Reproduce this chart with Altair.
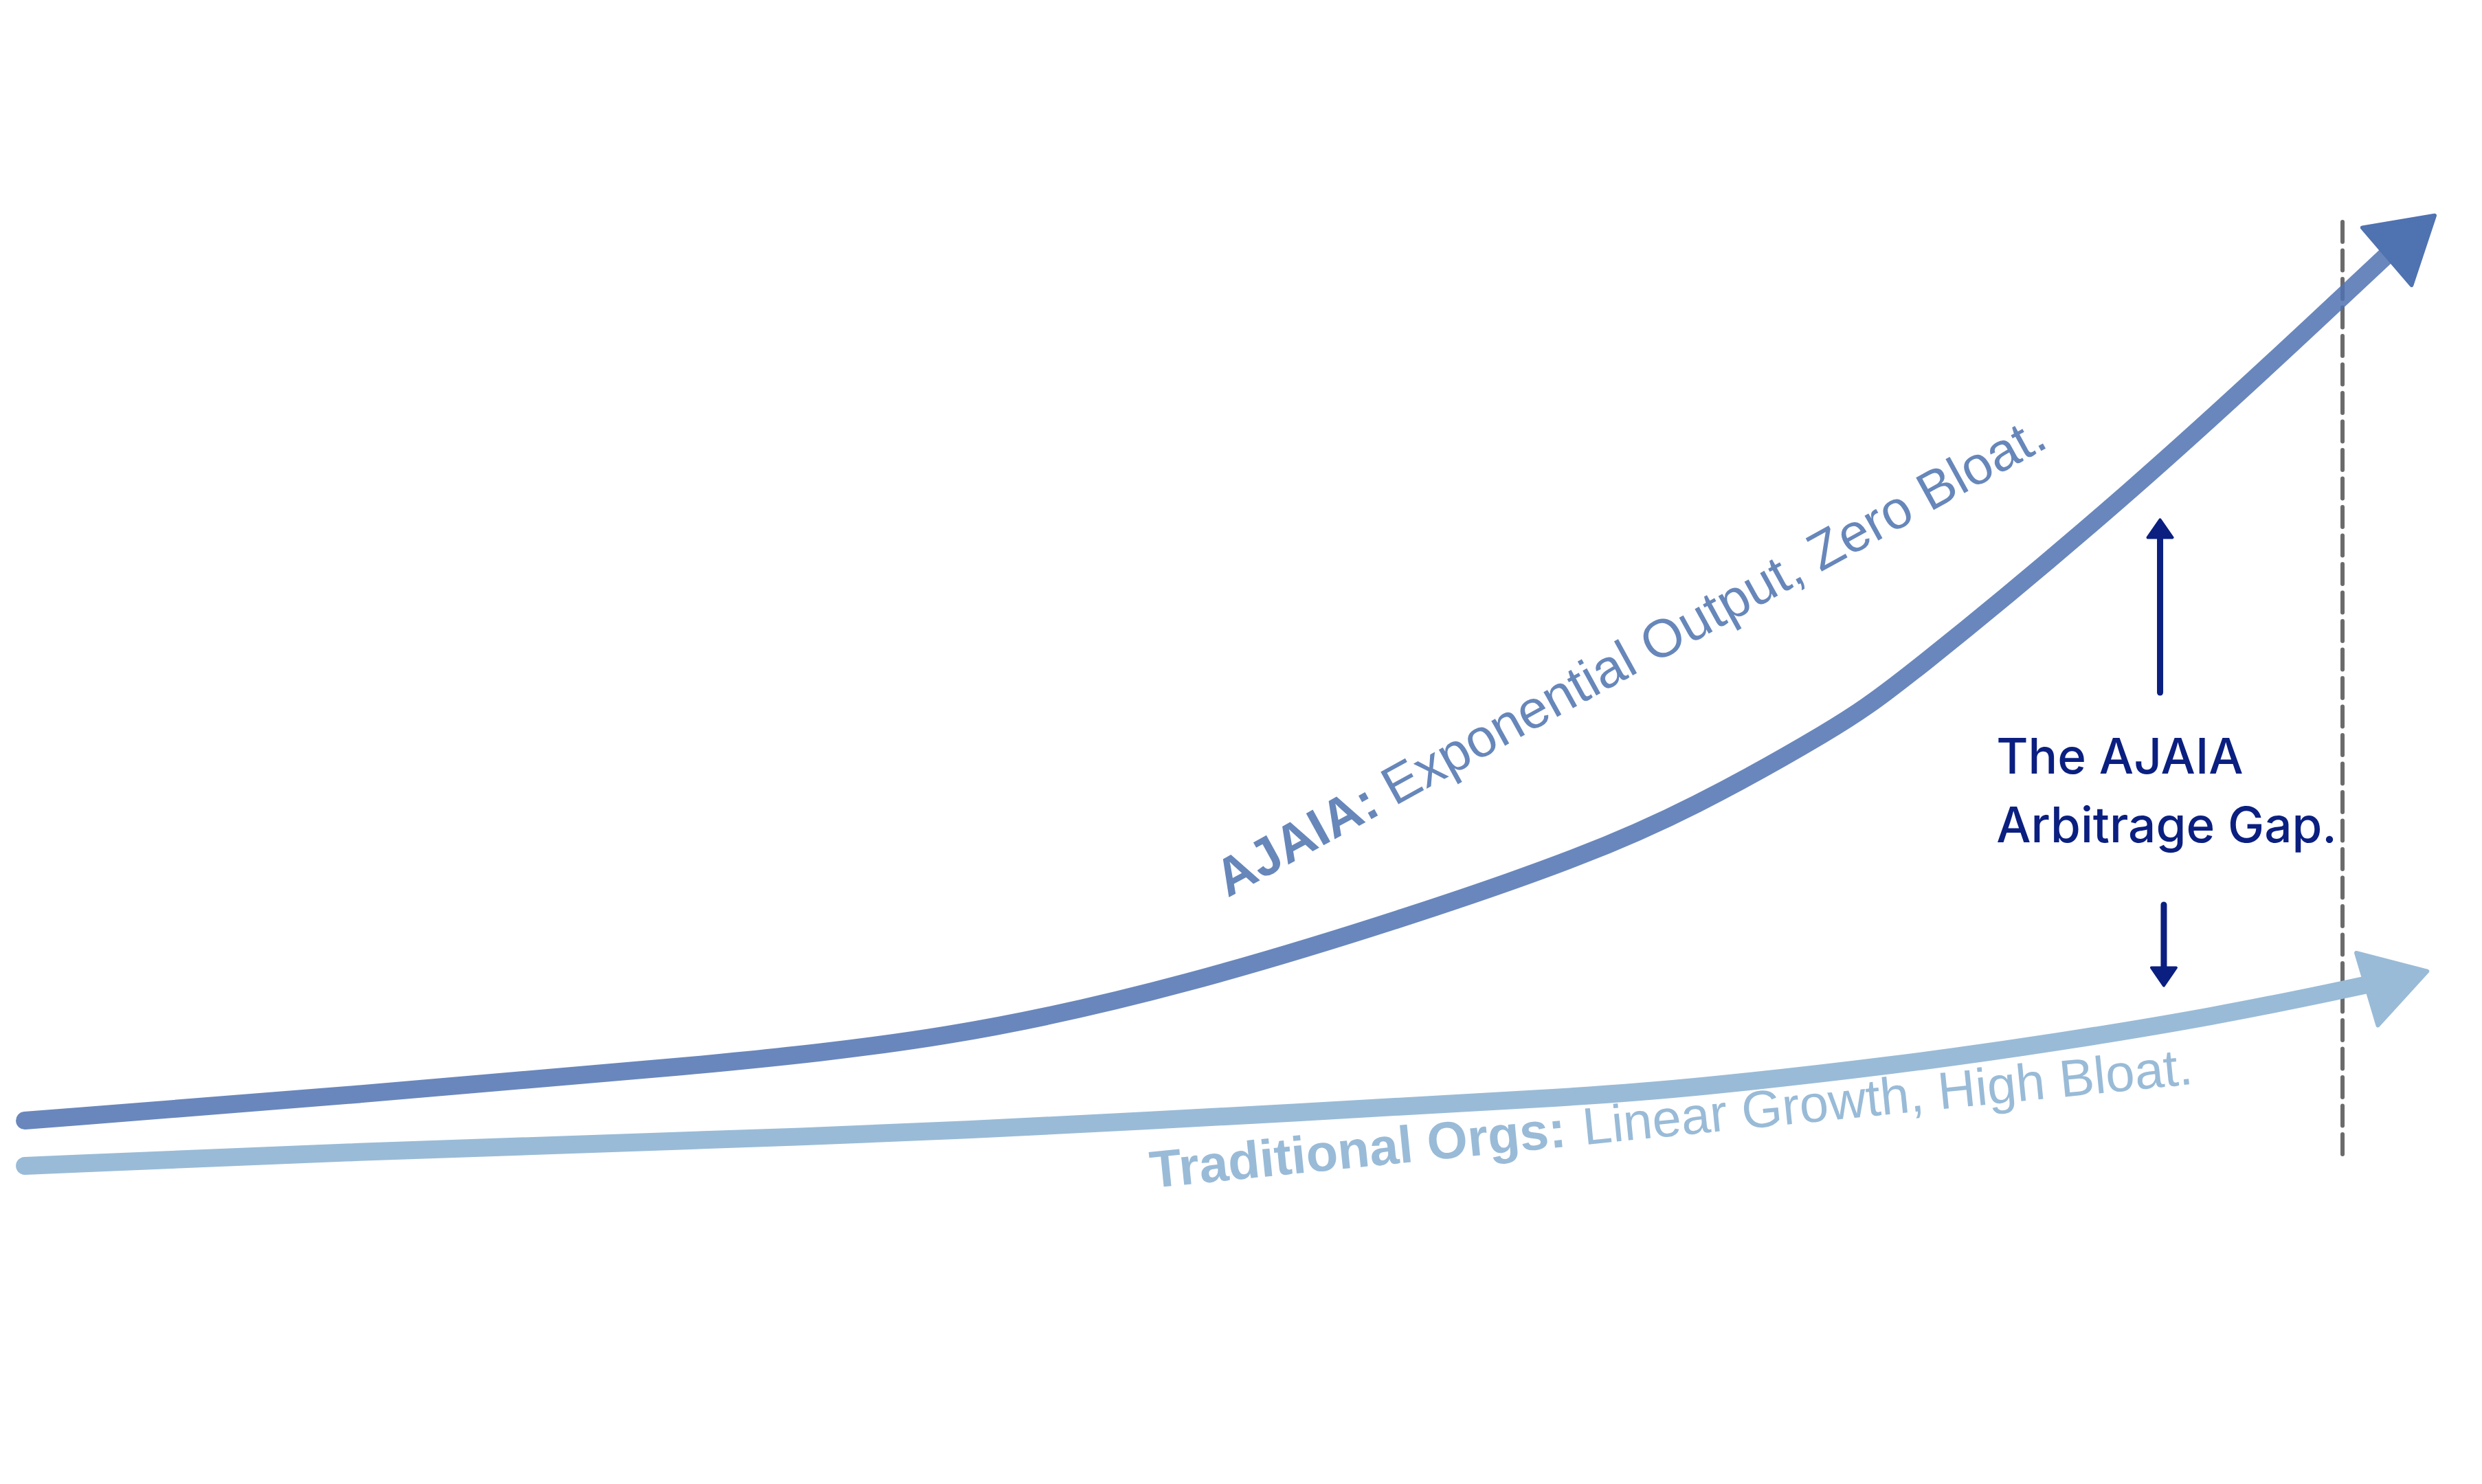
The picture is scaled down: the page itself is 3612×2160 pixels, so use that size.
import altair as alt
import pandas as pd

W, H = 3612, 2160

# ---- data (x: time, % of width; y: output, % of height) ----
ajaia_x = [1.00, 14.48, 27.96, 38.26, 47.84, 57.39, 63.79, 68.11, 73.98, 76.41,
           86.10, 94.38, 96.35]
ajaia_y = [24.49, 26.25, 28.15, 29.95, 33.60, 38.55, 42.30, 45.45, 50.95, 53.70,
           67.10, 80.00, 83.10]

trad_x = [1.00, 14.48, 27.96, 38.26, 52.88, 63.79, 68.11, 76.52, 82.92, 89.29, 94.38, 95.65]
trad_y = [21.44, 22.41, 23.15, 23.75, 25.09, 26.11, 26.67, 28.24, 29.77, 31.53, 33.29, 33.75]

head_series = ["AJAIA", "Traditional Orgs"]
head_x = [97.13, 96.58]
head_y = [84.10, 33.95]
head_angle = [319.4, 343.4]
head_color = ["#4F72B0", "#99BBD7"]

marker_x = [94.38]
marker_y_top = [85.05]
marker_y_bottom = [21.76]

gap_stem_x = [87.03, 87.18]
gap_stem_y = [53.33, 39.03]
gap_stem_y2 = [63.89, 34.63]
gap_head_x = [87.03, 87.18]
gap_head_y = [64.38, 34.19]
gap_head_angle = [0, 180]

ajaia_bold = "AJAIA:"
ajaia_text = "Exponential Output, Zero Bloat."
trad_bold = "Traditional Orgs:"
trad_text = "Linear Growth, High Bloat."
gap_lines = ["The AJAIA", "Arbitrage Gap."]

# ---- scales ----
xs = alt.Scale(domain=[0, 100], nice=False, zero=False)
ys = alt.Scale(domain=[0, 100], nice=False, zero=False)


def X(f):
    return alt.X(f, type="quantitative", scale=xs, axis=None)


def Y(f):
    return alt.Y(f, type="quantitative", scale=ys, axis=None)


aj_df = pd.DataFrame({"x": ajaia_x, "y": ajaia_y})
tr_df = pd.DataFrame({"x": trad_x, "y": trad_y})
head_df = pd.DataFrame({"s": head_series, "x": head_x, "y": head_y,
                        "a": head_angle, "c": head_color})
mk_df = pd.DataFrame({"x": marker_x, "y": marker_y_top, "y2": marker_y_bottom})
stem_df = pd.DataFrame({"x": gap_stem_x, "y": gap_stem_y, "y2": gap_stem_y2})
ghead_df = pd.DataFrame({"x": gap_head_x, "y": gap_head_y, "a": gap_head_angle})

marker = alt.Chart(mk_df).mark_rule(
    color="#6B6B6B", strokeWidth=6, strokeDash=[29, 12.5], strokeCap="round"
).encode(x=X("x"), y=Y("y"), y2="y2")

trad_line = alt.Chart(tr_df).mark_line(
    color="#99BBD7", strokeWidth=26, strokeCap="round", interpolate="basis"
).encode(x=X("x"), y=Y("y"))

aj_line = alt.Chart(aj_df).mark_line(
    color="#4F72B0", opacity=0.85, strokeWidth=26, strokeCap="round",
    interpolate="basis"
).encode(x=X("x"), y=Y("y"))

heads = alt.Chart(head_df).mark_point(
    shape="M 0.83 0 L -0.83 -1 L -0.83 1 Z", filled=True, size=12100,
    strokeWidth=6, strokeJoin="round", opacity=1
).encode(
    x=X("x"), y=Y("y"),
    angle=alt.Angle("a:Q", scale=None),
    fill=alt.Fill("c:N", scale=None),
    stroke=alt.Stroke("c:N", scale=None),
)

navy = "#0A1F80"
stems = alt.Chart(stem_df).mark_rule(
    color=navy, strokeWidth=9, strokeCap="round"
).encode(x=X("x"), y=Y("y"), y2="y2")

gheads = alt.Chart(ghead_df).mark_point(
    shape="M 0 -0.725 L 1 0.725 L -1 0.725 Z", filled=True, size=1296,
    fill=navy, stroke=navy, strokeWidth=4, strokeJoin="round", opacity=1
).encode(x=X("x"), y=Y("y"), angle=alt.Angle("a:Q", scale=None))


def label(text, x, y, angle, dx, color, weight, size, font):
    df = pd.DataFrame({"x": [x], "y": [y], "t": [text]})
    return alt.Chart(df).mark_text(
        align="left", baseline="alphabetic", angle=angle, dx=dx,
        color=color, fontWeight=weight, fontSize=size, font=font
    ).encode(x=X("x"), y=Y("y"), text="t:N")


lab_font = "Liberation Sans"
texts = [
    label(ajaia_bold, 49.47, 39.49, 331.2, 0, "#6787BA", "bold", 77, lab_font),
    label(ajaia_text, 49.47, 39.49, 331.2, 277, "#6787BA", "normal", 78, lab_font),
    label(trad_bold, 46.40, 19.95, 354.3, 0, "#99BBD7", "bold", 76, lab_font),
    label(trad_text, 46.40, 19.95, 354.3, 633, "#99BBD7", "normal", 76, lab_font),
    label(gap_lines[0], 80.43, 47.87, 0, 0, navy, 500, 71, "Inter"),
    label(gap_lines[1], 80.43, 43.22, 0, 0, navy, 500, 71, "Inter"),
]

chart = alt.layer(
    marker, trad_line, aj_line, heads, stems, gheads, *texts
).properties(
    width=W, height=H, padding=0,
    autosize=alt.AutoSizeParams(type="none"),
    background="white",
).configure_view(strokeOpacity=0)

chart.save("out.html", embed_options={"renderer": "svg", "actions": False})
